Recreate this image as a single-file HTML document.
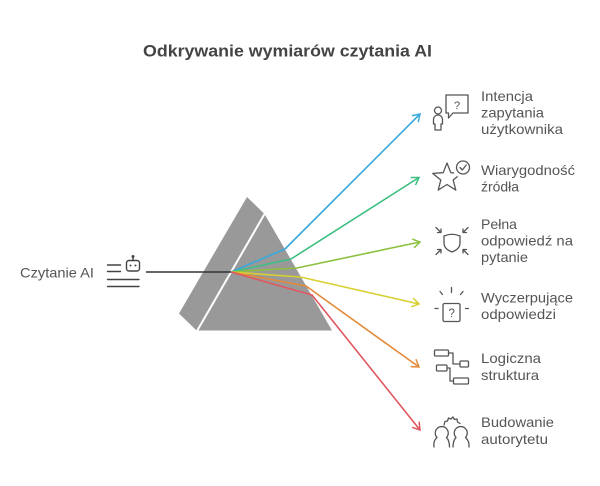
<!DOCTYPE html>
<html><head><meta charset="utf-8"><style>
html,body{margin:0;padding:0;background:#fff;}
svg{display:block;}
text{font-family:"Liberation Sans",sans-serif;fill:#555;}
</style></head><body>
<svg width="600" height="486" viewBox="0 0 600 486" xmlns="http://www.w3.org/2000/svg">
<defs>
<marker id="mb" markerUnits="userSpaceOnUse" markerWidth="20" markerHeight="20" refX="0" refY="0" orient="auto" overflow="visible"><path d="M-7,-4.5 L0,0 L-7,4.5" fill="none" stroke="#39a9dc" stroke-width="1.5"/></marker>
<marker id="mg" markerUnits="userSpaceOnUse" markerWidth="20" markerHeight="20" refX="0" refY="0" orient="auto" overflow="visible"><path d="M-7,-4.5 L0,0 L-7,4.5" fill="none" stroke="#3cbf82" stroke-width="1.5"/></marker>
<marker id="myg" markerUnits="userSpaceOnUse" markerWidth="20" markerHeight="20" refX="0" refY="0" orient="auto" overflow="visible"><path d="M-7,-4.5 L0,0 L-7,4.5" fill="none" stroke="#8cc040" stroke-width="1.5"/></marker>
<marker id="my" markerUnits="userSpaceOnUse" markerWidth="20" markerHeight="20" refX="0" refY="0" orient="auto" overflow="visible"><path d="M-7,-4.5 L0,0 L-7,4.5" fill="none" stroke="#d8d030" stroke-width="1.5"/></marker>
<marker id="mo" markerUnits="userSpaceOnUse" markerWidth="20" markerHeight="20" refX="0" refY="0" orient="auto" overflow="visible"><path d="M-7,-4.5 L0,0 L-7,4.5" fill="none" stroke="#e38b3a" stroke-width="1.5"/></marker>
<marker id="mr" markerUnits="userSpaceOnUse" markerWidth="20" markerHeight="20" refX="0" refY="0" orient="auto" overflow="visible"><path d="M-7,-4.5 L0,0 L-7,4.5" fill="none" stroke="#e2575f" stroke-width="1.5"/></marker>
</defs>

<!-- Title -->
<text x="143" y="56.5" font-size="17" font-weight="bold" style="fill:#444" textLength="289" lengthAdjust="spacingAndGlyphs">Odkrywanie wymiarów czytania AI</text>

<!-- Prism -->
<polygon points="247,197 264.5,214 332,330.5 196.5,330.5 179,313.5" fill="#999999"/>
<line x1="264.5" y1="214" x2="197" y2="331" stroke="#fff" stroke-width="2"/>

<!-- Input line -->
<line x1="146" y1="272" x2="231" y2="272" stroke="#333" stroke-width="1.5"/>

<!-- Rays -->
<g fill="none" stroke-width="1.6" stroke-linejoin="round">
<polyline points="231,272 285,249 420,114" stroke="#39a9dc" marker-end="url(#mb)"/>
<polyline points="231,272 291,259 419,177.5" stroke="#3cbf82" marker-end="url(#mg)"/>
<polyline points="231,272 297,268 420,242" stroke="#8cc040" marker-end="url(#myg)"/>
<polyline points="231,272 300.5,277 419,304" stroke="#d8d030" marker-end="url(#my)"/>
<polyline points="231,272 306,286 419,367" stroke="#e38b3a" marker-end="url(#mo)"/>
<polyline points="231,272 312,295 420,430" stroke="#e2575f" marker-end="url(#mr)"/>
</g>

<!-- Left label + icon -->
<text x="20" y="277.5" font-size="14" textLength="74" lengthAdjust="spacingAndGlyphs">Czytanie AI</text>
<g fill="none" stroke="#444" stroke-width="1.4" stroke-linecap="round">
<line x1="107.5" y1="265" x2="120.5" y2="265"/>
<line x1="107.5" y1="271.5" x2="120.5" y2="271.5"/>
<line x1="107.5" y1="279.5" x2="139" y2="279.5"/>
<line x1="107.5" y1="286.5" x2="139" y2="286.5"/>
<rect x="126.5" y="260.5" width="13" height="10.5" rx="2.5"/>
<line x1="133" y1="257" x2="133" y2="260.5"/>
<circle cx="133" cy="256.5" r="0.8" fill="#444"/>
</g>
<circle cx="130.5" cy="265.5" r="1" fill="#444"/>
<circle cx="135.5" cy="265.5" r="1" fill="#444"/>

<!-- Icons -->
<g fill="none" stroke="#555" stroke-width="1.3" stroke-linecap="round" stroke-linejoin="round">
<!-- 1 user + question -->
<circle cx="438" cy="110.5" r="3.5"/>
<path d="M433.5,124 V119.5 a4.5,4.5 0 0 1 9,0 V124 H441 V130 H435 V124 Z"/>
<path d="M446,95 H468 V113 H453 L448.5,118 V113 H446 Z"/>
<!-- 2 star + check -->
<polygon points="447,163 450.8,172.7 461.3,173.4 453.2,180 455.8,190.1 447,184.5 438.2,190.1 440.8,180 432.7,173.4 443.2,172.7"/>
<circle cx="463" cy="167.5" r="9.5" fill="#fff" stroke="#fff" stroke-width="2"/>
<circle cx="463" cy="167.5" r="6.5"/>
<path d="M460,167.5 L462.3,170 L466.2,165"/>
<!-- 3 shield + arrows -->
<path d="M444,236 Q452,232.5 460,236 V243 Q460,249 452,252 Q444,249 444,243 Z"/>
<path d="M436,227.5 L441,232.5 M437.5,232.5 H441 V229"/>
<path d="M468,227.5 L463,232.5 M466.5,232.5 H463 V229"/>
<path d="M436,254.5 L441,249.5 M437.5,249.5 H441 V253"/>
<path d="M468,254.5 L463,249.5 M466.5,249.5 H463 V253"/>
<!-- 4 question box -->
<rect x="443" y="303.5" width="17" height="18" rx="1.5"/>
<line x1="451.5" y1="287.5" x2="451.5" y2="292.5"/>
<line x1="440" y1="291.5" x2="442.5" y2="294.5"/>
<line x1="463" y1="291.5" x2="460.5" y2="294.5"/>
<line x1="435" y1="308.5" x2="438" y2="308.5"/>
<line x1="465.5" y1="308.5" x2="468.5" y2="308.5"/>
<!-- 5 flowchart -->
<rect x="434.5" y="350" width="14" height="6" rx="1"/>
<rect x="436.5" y="365" width="10.5" height="6" rx="1"/>
<rect x="460" y="361" width="8.5" height="6" rx="1"/>
<rect x="453.5" y="378" width="15" height="6" rx="1"/>
<path d="M448.5,353 H453 V364 H460"/>
<path d="M447,368 H450 V381 H453.5"/>
<!-- 6 people + gear -->
<path d="M434,447 Q433,441 437,437.5 A6.5,6.5 0 1 1 446.5,437.5 Q449.5,440.5 449.5,447"/>
<path d="M453,447 Q453,440.5 456,437.5 A6.5,6.5 0 1 1 465.5,437.5 Q469.5,441 469,447"/>
<path d="M444,425 L445,421.5 L447.5,421 L448.5,418 L451,419 L453,417 L454.5,419.5 L457,419 L457.5,422 L460,423.5"/>
</g>
<text x="454" y="109" font-size="11" style="fill:#555">?</text>
<text x="448.5" y="317" font-size="11.5" style="fill:#555">?</text>

<!-- Labels -->
<g font-size="14">
<text x="481" y="101" textLength="52" lengthAdjust="spacingAndGlyphs">Intencja</text>
<text x="481" y="117.5" textLength="63" lengthAdjust="spacingAndGlyphs">zapytania</text>
<text x="481" y="134" textLength="82" lengthAdjust="spacingAndGlyphs">użytkownika</text>
<text x="481" y="175" textLength="94" lengthAdjust="spacingAndGlyphs">Wiarygodność</text>
<text x="481" y="191.5" textLength="38" lengthAdjust="spacingAndGlyphs">źródła</text>
<text x="481" y="229" textLength="36" lengthAdjust="spacingAndGlyphs">Pełna</text>
<text x="481" y="245.5" textLength="92" lengthAdjust="spacingAndGlyphs">odpowiedź na</text>
<text x="481" y="262" textLength="47" lengthAdjust="spacingAndGlyphs">pytanie</text>
<text x="481" y="302.5" textLength="92" lengthAdjust="spacingAndGlyphs">Wyczerpujące</text>
<text x="481" y="319" textLength="75" lengthAdjust="spacingAndGlyphs">odpowiedzi</text>
<text x="481" y="363" textLength="60" lengthAdjust="spacingAndGlyphs">Logiczna</text>
<text x="481" y="380" textLength="58" lengthAdjust="spacingAndGlyphs">struktura</text>
<text x="481" y="427" textLength="73" lengthAdjust="spacingAndGlyphs">Budowanie</text>
<text x="481" y="444" textLength="67" lengthAdjust="spacingAndGlyphs">autorytetu</text>
</g>
</svg>
</body></html>
